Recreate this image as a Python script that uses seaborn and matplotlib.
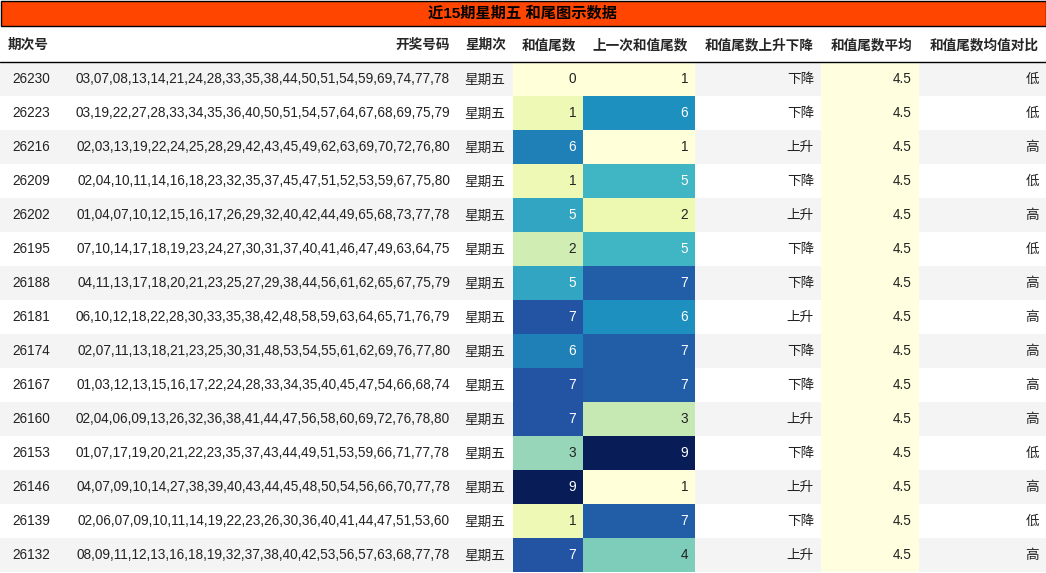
import matplotlib
matplotlib.use("Agg")
import matplotlib.pyplot as plt
from matplotlib.patches import Rectangle
import seaborn as sns
import numpy as np

sns.set_theme(style="white")
plt.rcParams['font.family'] = ['Liberation Sans', 'Noto Sans CJK SC', 'DejaVu Sans']

title = "近15期星期五 和尾图示数据"
headers = ["期次号", "开奖号码", "星期次", "和值尾数", "上一次和值尾数", "和值尾数上升下降", "和值尾数平均", "和值尾数均值对比"]
issues = ["26230", "26223", "26216", "26209", "26202", "26195", "26188", "26181",
          "26174", "26167", "26160", "26153", "26146", "26139", "26132"]
draws = [
    "03,07,08,13,14,21,24,28,33,35,38,44,50,51,54,59,69,74,77,78",
    "03,19,22,27,28,33,34,35,36,40,50,51,54,57,64,67,68,69,75,79",
    "02,03,13,19,22,24,25,28,29,42,43,45,49,62,63,69,70,72,76,80",
    "02,04,10,11,14,16,18,23,32,35,37,45,47,51,52,53,59,67,75,80",
    "01,04,07,10,12,15,16,17,26,29,32,40,42,44,49,65,68,73,77,78",
    "07,10,14,17,18,19,23,24,27,30,31,37,40,41,46,47,49,63,64,75",
    "04,11,13,17,18,20,21,23,25,27,29,38,44,56,61,62,65,67,75,79",
    "06,10,12,18,22,28,30,33,35,38,42,48,58,59,63,64,65,71,76,79",
    "02,07,11,13,18,21,23,25,30,31,48,53,54,55,61,62,69,76,77,80",
    "01,03,12,13,15,16,17,22,24,28,33,34,35,40,45,47,54,66,68,74",
    "02,04,06,09,13,26,32,36,38,41,44,47,56,58,60,69,72,76,78,80",
    "01,07,17,19,20,21,22,23,35,37,43,44,49,51,53,59,66,71,77,78",
    "04,07,09,10,14,27,38,39,40,43,44,45,48,50,54,56,66,70,77,78",
    "02,06,07,09,10,11,14,19,22,23,26,30,36,40,41,44,47,51,53,60",
    "08,09,11,12,13,16,18,19,32,37,38,40,42,53,56,57,63,68,77,78",
]
weekday = "星期五"
tail = [0, 1, 6, 1, 5, 2, 5, 7, 6, 7, 7, 3, 9, 1, 7]
prev_tail = [1, 6, 1, 5, 2, 5, 7, 6, 7, 7, 3, 9, 1, 7, 4]
trend = ["下降", "下降", "上升", "下降", "上升", "下降", "下降", "上升", "下降", "下降", "上升", "下降", "上升", "下降", "上升"]
avg = [4.5] * 15
compare = ["低", "低", "高", "低", "高", "低", "高", "高", "高", "高", "高", "低", "高", "低", "高"]

W, H = 1046, 573
fig = plt.figure(figsize=(W / 100, H / 100), dpi=100)
ax = fig.add_axes([0, 0, 1, 1])
ax.set_xlim(0, W)
ax.set_ylim(H, 0)
ax.axis("off")

cmap = sns.color_palette("YlGnBu", as_cmap=True)
fs = 9.8

# title bar
ax.add_patch(Rectangle((0.5, 0.5), W - 1, 25, facecolor="#FF4500", edgecolor="black", lw=1))
ax.text(W / 2, 13.5, title, ha="center", va="center", fontsize=11, fontweight="bold", color="black")

cols = [0, 60, 455, 513, 583, 695, 821, 919, W]
hy = 45
ax.text(8, hy, headers[0], ha="left", va="center", fontsize=fs, fontweight="bold")
ax.text(450, hy, headers[1], ha="right", va="center", fontsize=fs, fontweight="bold")
for i in range(2, 8):
    ax.text(cols[i + 1] - 7, hy, headers[i], ha="right", va="center", fontsize=fs, fontweight="bold")
ax.plot([0, W], [61.5, 61.5], color="black", lw=1)

def txtcolor(c):
    r, g, b = [x / 12.92 if x <= 0.04045 else ((x + 0.055) / 1.055) ** 2.4 for x in c[:3]]
    return "white" if 0.2126 * r + 0.7152 * g + 0.0722 * b < 0.408 else "#222222"

norms = {3: plt.Normalize(min(tail), max(tail)), 4: plt.Normalize(min(prev_tail), max(prev_tail))}

rh = 34
for r in range(15):
    y0 = 62 + r * rh
    yc = y0 + rh / 2
    if r % 2 == 0:
        ax.add_patch(Rectangle((0, y0), W, rh, facecolor="#f4f4f4", lw=0))
    for ci, v in ((3, tail[r]), (4, prev_tail[r])):
        c = cmap(norms[ci](v))
        ax.add_patch(Rectangle((cols[ci], y0), cols[ci + 1] - cols[ci], rh, facecolor=c, lw=0))
        ax.text(cols[ci + 1] - 7, yc, str(v), ha="right", va="center", fontsize=fs, color=txtcolor(c))
    ax.add_patch(Rectangle((cols[6], y0), cols[7] - cols[6], rh, facecolor="#ffffe0", lw=0))
    ax.text(50, yc, issues[r], ha="right", va="center", fontsize=fs, color="#222222")
    ax.text(450, yc, draws[r], ha="right", va="center", fontsize=fs, color="#222222")
    ax.text(485, yc + 1, weekday, ha="center", va="center", fontsize=fs, color="#222222")
    ax.text(cols[6] - 7, yc, trend[r], ha="right", va="center", fontsize=fs, color="#222222")
    ax.text(cols[7] - 7, yc, f"{avg[r]:.1f}", ha="right", va="center", fontsize=fs, color="#222222")
    ax.text(cols[8] - 7, yc, compare[r], ha="right", va="center", fontsize=fs, color="#222222")

fig.savefig("out.png", dpi=100)
